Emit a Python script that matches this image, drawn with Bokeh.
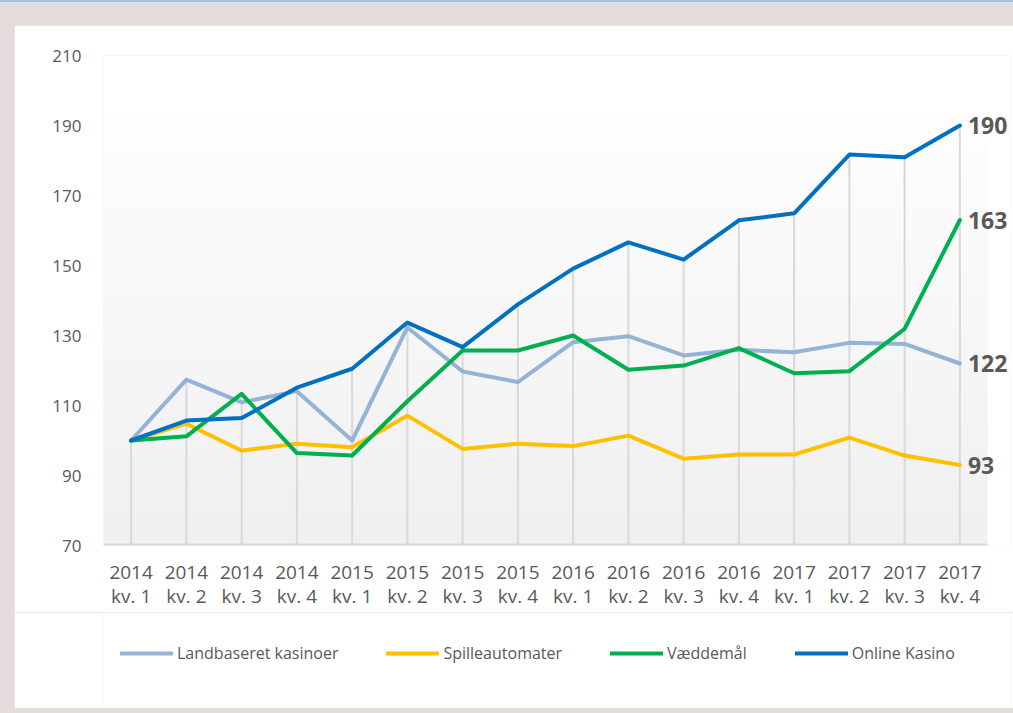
import numpy as np
from bokeh.plotting import figure
from bokeh.models import (ColumnDataSource, Range1d, FixedTicker, Legend, LegendItem, LabelSet)
from bokeh.core.properties import value
from bokeh.layouts import column
from bokeh.embed import file_html
from bokeh.resources import INLINE

# ---- data ----
years = ["2014", "2014", "2014", "2014", "2015", "2015", "2015", "2015",
         "2016", "2016", "2016", "2016", "2017", "2017", "2017", "2017"]
quarters = ["kv. 1", "kv. 2", "kv. 3", "kv. 4"] * 4
landbaseret = [100, 117.4, 110.9, 114.1, 100, 132.3, 119.7, 116.7,
               128.1, 129.8, 124.3, 125.9, 125.2, 127.9, 127.6, 122]
spilleautomater = [100, 104.8, 97.1, 99.1, 98.1, 107.1, 97.6, 99.1,
                   98.4, 101.4, 94.8, 96.0, 96.0, 100.8, 95.7, 93]
vaeddemaal = [100, 101.2, 113.3, 96.4, 95.7, 111.2, 125.7, 125.7,
              130.0, 120.2, 121.4, 126.4, 119.2, 119.8, 131.9, 163]
online = [100, 105.7, 106.4, 115.1, 120.5, 133.7, 126.7, 138.9,
          149.1, 156.6, 151.7, 162.9, 164.9, 181.7, 180.9, 190]
end_labels = ["122", "93", "163", "190"]
series_names = ["Landbaseret kasinoer", "Spilleautomater", "Væddemål", "Online Kasino"]
y_ticks = [70, 90, 110, 130, 150, 170, 190, 210]

# ---- styles ----
colors = ["#95b3d7", "#ffc000", "#00b050", "#0070c0"]
TEXT = "#595959"
FONT = "Open Sans"
Y_MIN, Y_MAX = 70, 210
BG_TOP = 192.3

x = list(range(len(years)))
series = [landbaseret, spilleautomater, vaeddemaal, online]

FRAME_W = 907          # includes room for the end labels
UNIT_PX = 884 / len(x)  # pixel width of one category in the plot area
x_lo = -0.5
x_hi = len(x) - 0.5
x_end = x_lo + FRAME_W / UNIT_PX

p = figure(frame_width=FRAME_W, frame_height=490, output_backend="svg", toolbar_location=None,
           x_range=Range1d(x_lo, x_end), y_range=Range1d(Y_MIN, Y_MAX),
           min_border_left=89, min_border_right=3, min_border_top=30,
           min_border_bottom=61)
p.outline_line_color = None
p.background_fill_color = "white"
p.border_fill_color = "white"
p.xgrid.visible = False
p.ygrid.visible = False

# gradient background of the plot area
n = 200
g = np.linspace(240, 254, n).astype(np.uint8)
img = np.zeros((n, 1), dtype=np.uint32)
view = img.view(dtype=np.uint8).reshape((n, 1, 4))
view[:, 0, 0] = g
view[:, 0, 1] = g
view[:, 0, 2] = g
view[:, 0, 3] = 255
p.image_rgba(image=[img], x=x_lo, y=Y_MIN, dw=x_hi - x_lo, dh=BG_TOP - Y_MIN)

# category axis line (only under the plot area)
p.segment(x0=[x_lo], y0=[Y_MIN], x1=[x_hi], y1=[Y_MIN], line_color="#d9d9d9", line_width=4)

# drop lines
tops = [max(v) for v in zip(*series)]
p.segment(x0=x, y0=[Y_MIN] * len(x), x1=x, y1=tops, line_color="#d9d9d9", line_width=2)

for vals, c in zip(series, colors):
    p.line(x, vals, line_color=c, line_width=4, line_join="round", line_cap="round")

# end labels
lab_src = ColumnDataSource(dict(x=[x[-1]] * 4, y=[s[-1] for s in series], t=end_labels))
p.add_layout(LabelSet(x="x", y="y", text="t", source=lab_src, x_offset=8,
                      text_baseline="middle", text_font=value(FONT),
                      text_font_style="bold", text_font_size="23px", text_color=TEXT))

# axes
xa = p.xaxis[0]
xa.ticker = FixedTicker(ticks=x)
xa.major_label_overrides = {i: f"{yy}\n{qq}" for i, (yy, qq) in enumerate(zip(years, quarters))}
xa.axis_line_color = None
xa.major_tick_in = 0
xa.major_tick_out = 0
xa.minor_tick_in = 0
xa.minor_tick_out = 0
xa.major_label_standoff = 13
xa.major_label_text_font = FONT
xa.major_label_text_font_size = "19px"
xa.major_label_text_color = TEXT
xa.major_label_text_line_height = 0.95

ya = p.yaxis[0]
ya.ticker = FixedTicker(ticks=y_ticks)
ya.axis_line_color = None
ya.major_tick_in = 0
ya.major_tick_out = 0
ya.minor_tick_in = 0
ya.minor_tick_out = 0
ya.major_label_standoff = 22
ya.major_label_text_font = FONT
ya.major_label_text_font_size = "17px"
ya.major_label_text_color = TEXT

# legend (own strip below the chart); the series lines here lie outside its view
pl = figure(width=999, height=96, output_backend="svg", toolbar_location=None,
            x_range=Range1d(0, 1), y_range=Range1d(0, 1),
            x_axis_location=None, y_axis_location=None,
            min_border=0, min_border_left=0, min_border_right=0,
            min_border_top=0, min_border_bottom=0)
pl.grid.visible = False
pl.outline_line_color = None
pl.border_fill_color = "white"
pl.background_fill_color = "white"
swatches = [pl.line(x, vals, line_color=c, line_width=4, line_cap="round")
            for vals, c in zip(series, colors)]
legend = Legend(items=[LegendItem(label=nm, renderers=[r]) for nm, r in zip(series_names, swatches)],
                orientation="horizontal", location=(17, 44))
legend.label_text_font = FONT
legend.label_text_font_size = "16px"
legend.label_text_color = TEXT
legend.glyph_width = 53
legend.label_standoff = 4
legend.spacing = 48
legend.border_line_color = None
legend.background_fill_alpha = 0
legend.margin = 0
pl.add_layout(legend, "center")

layout = column(p, pl, spacing=0,
                styles={"background-color": "#e3dcdb",
                        "padding": "23px 0px 11px 14px",
                        "border-top": "2px solid #9dc3e6"})

open("out.html", "w").write(file_html(layout, INLINE))
